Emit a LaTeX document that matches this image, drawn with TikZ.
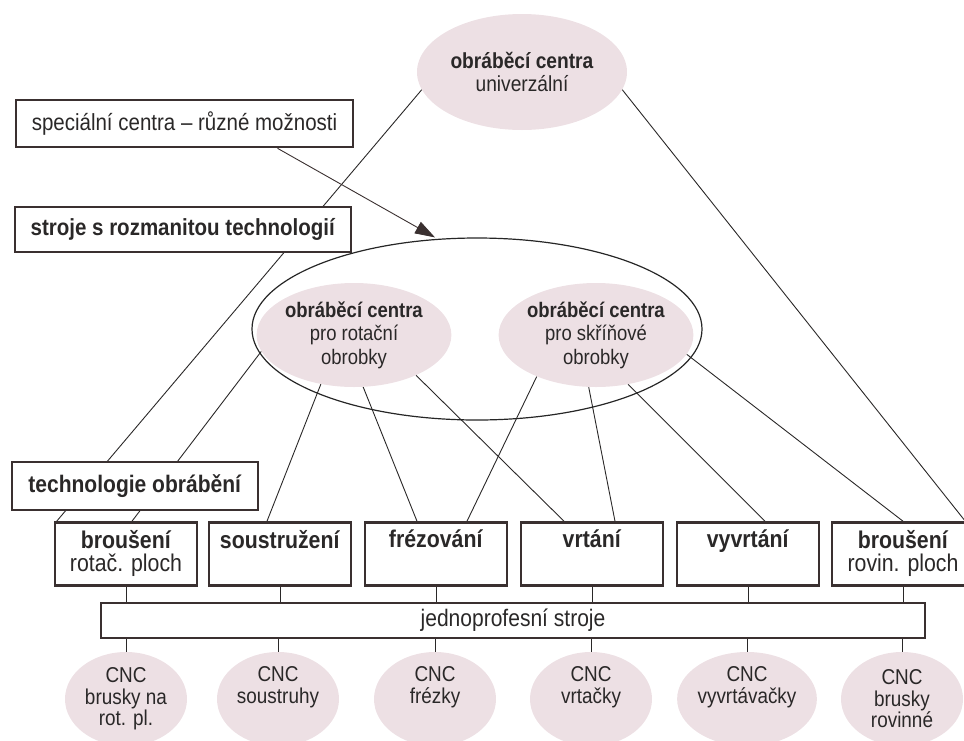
\documentclass[tikz,border=0pt]{standalone}
\usepackage{fontspec}
\setmainfont{Liberation Sans}[FakeStretch=0.88]
\usepackage{xcolor}
\usepackage{tikz}
\usetikzlibrary{arrows.meta,shapes.geometric,backgrounds,calc}
\definecolor{ovalfill}{RGB}{237,224,228}
\definecolor{boxline}{RGB}{58,48,48}
\definecolor{inkgray}{RGB}{42,40,40}

\begin{document}
\begin{tikzpicture}[x=1pt, y=-1pt, >=Stealth,
  every node/.style={text=inkgray},
  oval/.style={ellipse, fill=ovalfill, inner sep=0pt, align=center, font=\fontsize{21}{23.5}\selectfont},
  tagbox/.style={draw=boxline, line width=2.6pt, fill=white, inner sep=0pt, align=center, font=\fontsize{23.3}{22}\selectfont},
  link/.style={draw=inkgray, line width=0.9pt}]
\useasboundingbox (0,0) rectangle (964,740);
% --- Top: universal centre, labels ---
\node[oval, minimum width=210pt, minimum height=116pt, font=\fontsize{21.8}{22.5}\selectfont] (uni) at (522,72) {\textbf{obráběcí centra}\\univerzální};
\node[tagbox, minimum width=337pt, minimum height=47pt] (spec) at (184.5,123.5) {speciální centra – různé možnosti};
\node[tagbox, minimum width=336pt, minimum height=45pt] (multi) at (183,229.5) {\textbf{stroje s rozmanitou technologií}};
% --- Middle: machining centres ---
\node[ellipse, draw=black!85, line width=1.2pt, minimum width=450pt, minimum height=182pt] (cent) at (477,329) {};
\node[oval, minimum width=182pt, minimum height=104pt] (rot) at (354,335) {\textbf{obráběcí centra}\\pro rotační\\obrobky};
\node[oval, minimum width=182pt, minimum height=104pt] (skr) at (596,335) {\textbf{obráběcí centra}\\pro skříňové\\obrobky};
% --- Bottom: technologies, machines ---
\node[tagbox, minimum width=246pt, minimum height=48pt, font=\fontsize{23.9}{22}\selectfont] (tech) at (135,486) {\textbf{technologie obrábění}};
\foreach \nm/\x/\lab/\sublab in {br1/126/broušení/rotač. ploch, so/280/soustružení/, fr/436/frézování/, vr/592/vrtání/, vy/748/vyvrtání/, br2/903/broušení/rovin. ploch}
  \node[tagbox, minimum width=142pt, minimum height=63pt, font=\fontsize{24.2}{23}\selectfont] (\nm) at (\x,554) {\textbf{\lab}\\\strut\sublab};
\node[tagbox, line width=2.2pt, minimum width=824pt, minimum height=35pt, font=\fontsize{23.9}{22}\selectfont] (jp) at (513,620.5) {jednoprofesní stroje};
\foreach \nm/\x/\lab in {c1/126/{CNC\\brusky na\\rot. pl.}, c2/278/{CNC\\soustruhy\\\strut}, c3/435/{CNC\\frézky\\\strut}, c4/591/{CNC\\vrtačky\\\strut}, c5/747/{CNC\\vyvrtávačky\\\strut}, c6/902/{CNC\\brusky\\rovinné}}
  \node[oval, minimum width=122pt, minimum height=94pt, font=\fontsize{21.5}{21.5}\selectfont] (\nm) at (\x,699) {\lab};
% --- Connectors (behind the boxes) ---
\begin{pgfonlayer}{background}
\draw[link] (uni.190) -- ([xshift=3pt]br1.north west);
\draw[link] (uni.350) -- ([xshift=-10pt]br2.north east);
\draw[link] (rot.190) -- ([xshift=6pt]br1.north);
\draw[link] (rot.236) -- ([xshift=-13pt]so.north);
\draw[link] (rot.280) -- ([xshift=-19pt]fr.north);
\draw[link] (rot.327) -- ([xshift=-28pt]vr.north);
\draw[link] (skr.215) -- ([xshift=31pt]fr.north);
\draw[link] (skr.262) -- ([xshift=23pt]vr.north);
\draw[link] (skr.303) -- ([xshift=17pt]vy.north);
\draw[link] (skr.348) -- (br2.north);
\foreach \b/\c in {br1/c1, so/c2, fr/c3, vr/c4, vy/c5, br2/c6} {
  \draw[link] (\b.south) -- (\b.south |- jp.north);
  \draw[link] (\c.north |- jp.south) -- (\c.north); }
\end{pgfonlayer}
\draw[link, -{Triangle[length=20pt, width=13pt]}, boxline] ([xshift=93pt]spec.south) -- ([xshift=-42pt]cent.north);
\end{tikzpicture}
\end{document}
